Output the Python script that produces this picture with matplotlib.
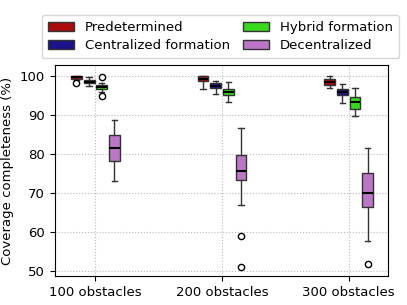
import matplotlib
matplotlib.use("Agg")
import matplotlib.pyplot as plt
from matplotlib.patches import Patch

GROUPS = ["100 obstacles", "200 obstacles", "300 obstacles"]
METHODS = ["Predetermined", "Centralized formation", "Hybrid formation", "Decentralized"]
COLORS = ["#a80c0c", "#1c1289", "#38d81f", "#bb77c6"]

# per method, per group: (whislo, q1, med, q3, whishi, outliers)
PRED = [(99.0, 99.3, 99.6, 100.0, 100.0, [98.1]),
        (96.6, 98.6, 99.3, 100.0, 100.0, []),
        (96.9, 97.6, 98.5, 99.2, 100.0, [])]
CENT = [(97.4, 98.1, 98.5, 98.9, 99.8, []),
        (95.4, 96.9, 97.5, 98.1, 98.8, []),
        (93.0, 95.0, 95.8, 96.6, 98.0, [])]
HYB = [(95.8, 96.6, 97.1, 97.7, 98.3, [99.6, 94.8]),
       (93.4, 95.0, 95.8, 96.6, 98.5, []),
       (89.6, 91.5, 93.2, 94.5, 96.9, [])]
DEC = [(73.1, 78.3, 81.4, 84.8, 88.7, []),
       (66.8, 73.2, 75.5, 79.7, 86.7, [59.0, 51.0]),
       (57.7, 66.5, 70.1, 75.2, 81.6, [51.9])]
SERIES = [PRED, CENT, HYB, DEC]
OFFSETS = [-0.15, -0.05, 0.05, 0.15]
FS = 9.5

fig = plt.figure(figsize=(4.07, 3.05), dpi=100)
ax = fig.add_axes([0.135, 0.095, 0.818, 0.692])

for s, c, off in zip(SERIES, COLORS, OFFSETS):
    stats = [dict(whislo=a, q1=b, med=m, q3=d, whishi=e, fliers=f) for a, b, m, d, e, f in s]
    ax.bxp(stats, positions=[i + off for i in range(len(GROUPS))], widths=0.085,
           patch_artist=True, manage_ticks=False,
           boxprops=dict(facecolor=c, edgecolor="#333333", linewidth=1),
           medianprops=dict(color="black", linewidth=1.5),
           whiskerprops=dict(color="#333333", linewidth=1),
           capprops=dict(color="#333333", linewidth=1),
           flierprops=dict(marker="o", markerfacecolor="white", markeredgecolor="black",
                           markersize=4.5, linewidth=0))

ax.set_xticks(range(len(GROUPS)))
ax.set_xticklabels(GROUPS, fontsize=FS)
ax.set_xlim(-0.32, 2.31)
ax.set_ylim(48.7, 102.8)
ax.set_yticks([50, 60, 70, 80, 90, 100])
ax.tick_params(axis="y", labelsize=FS)
ax.set_ylabel("Coverage completeness (%)", fontsize=FS)
ax.grid(True, linestyle=":", color="#bbbbbb", linewidth=0.8)
ax.set_axisbelow(True)

handles = [Patch(facecolor=c, edgecolor="#333333", label=m) for c, m in zip(COLORS, METHODS)]
fig.legend(handles=handles, ncol=2, loc="upper center", bbox_to_anchor=(0.541, 0.951),
           borderaxespad=0, fontsize=FS, handlelength=2.0, columnspacing=1.0,
           handletextpad=0.8, borderpad=0.45, labelspacing=0.42)

fig.savefig("out.png", dpi=100)
